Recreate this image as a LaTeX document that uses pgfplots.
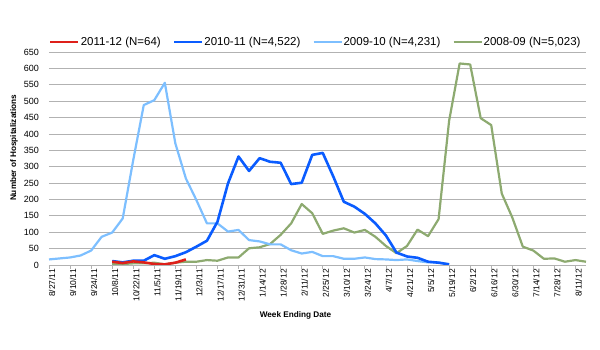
\documentclass[border=0pt]{standalone}
\usepackage{pgfplots}
\pgfplotsset{compat=1.18}
\usepackage{fontspec}
\setmainfont{Liberation Sans}

\definecolor{sA}{RGB}{222,32,26}    % 2011-12
\definecolor{sB}{RGB}{10,92,255}    % 2010-11
\definecolor{sC}{RGB}{125,191,255}  % 2009-10
\definecolor{sD}{RGB}{141,170,112}  % 2008-09
\definecolor{gridgray}{RGB}{178,178,178}

% week index (0 = 8/27/11), weekly hospitalizations
\pgfplotstableread{
w v
6 10
7 6
8 11
9 8
10 3
11 2
12 7
13 17
}\seasonA
\pgfplotstableread{
w v
6 12
7 8
8 13
9 13
10 30
11 19
12 27
13 39
14 56
15 74
16 132
17 249
18 331
19 287
20 326
21 315
22 312
23 247
24 251
25 336
26 342
27 270
28 193
29 178
30 156
31 127
32 90
33 38
34 26
35 22
36 10
37 7
38 2
}\seasonB
\pgfplotstableread{
w v
0 17
1 20
2 23
3 29
4 44
5 86
6 99
7 142
8 320
9 488
10 503
11 556
12 371
13 264
14 198
15 127
16 127
17 102
18 107
19 76
20 72
21 63
22 63
23 45
24 35
25 40
26 27
27 27
28 19
29 19
30 23
31 18
32 17
33 15
34 17
35 12
36 8
37 8
38 2
}\seasonC
\pgfplotstableread{
w v
6 3
7 3
8 5
9 5
10 7
11 2
12 7
13 10
14 10
15 15
16 13
17 23
18 23
19 51
20 54
21 64
22 92
23 127
24 186
25 158
26 95
27 105
28 112
29 99
30 107
31 86
32 58
33 36
34 58
35 108
36 88
37 140
38 440
39 615
40 612
41 448
42 427
43 218
44 145
45 56
46 44
47 19
48 20
49 10
50 15
51 10
}\seasonD

\begin{document}
\begin{tikzpicture}
\path[use as bounding box] (-49pt,-85pt) rectangle (551pt,265pt);
\begin{axis}[
  at={(0pt,0pt)}, anchor=south west,
  scale only axis, width=537pt, height=213pt,
  xmin=0, xmax=51, ymin=0, ymax=650,
  axis x line*=bottom, axis y line*=left,
  x axis line style={-, draw=gridgray, line width=0.9pt},
  y axis line style={draw=none},
  ytick={0,50,...,650},
  ymajorgrids, grid style={gridgray, line width=0.7pt},
  ytick style={draw=none},
  xtick={0,2,...,50},
  xticklabels={8/27/11,9/10/11,9/24/11,10/8/11,10/22/11,11/5/11,11/19/11,12/3/11,12/17/11,12/31/11,1/14/12,1/28/12,2/11/12,2/25/12,3/10/12,3/24/12,4/7/12,4/21/12,5/5/12,5/19/12,6/2/12,6/16/12,6/30/12,7/14/12,7/28/12,8/11/12},
  xtick style={draw=gridgray, line width=0.8pt},
  tick align=outside, major tick length=4pt,
  /pgf/number format/assume math mode=true,
  x tick label style={rotate=90, anchor=east, inner sep=0pt, yshift=-3pt, font=\fontsize{8.5}{9}\selectfont},
  y tick label style={anchor=east, inner sep=0pt, xshift=-6pt, font=\fontsize{9}{10}\selectfont},
  xlabel={Week Ending Date},
  ylabel={Number of Hospitalizations},
  every axis x label/.style={at={(axis description cs:0.459,-0.235)}, anchor=center, font=\bfseries\fontsize{8.2}{9}\selectfont},
  every axis y label/.style={at={(axis description cs:-0.065,0.55)}, rotate=90, anchor=center, font=\bfseries\fontsize{8.2}{9}\selectfont},
  legend columns=4, reverse legend,
  legend style={at={(axis description cs:0.496,1)}, anchor=south, yshift=2pt,
    draw=none, fill=none, font=\fontsize{11.5}{13}\selectfont,
    nodes={inner xsep=1pt, inner ysep=1pt},
    /tikz/every even column/.append style={column sep=11pt}},
  legend image code/.code={\draw[#1] (0pt,0pt) -- (28pt,0pt);},
  line join=round,
]
\addplot[sD, line width=2.2pt] table[x=w, y=v] {\seasonD};
\addlegendentry{2008-09 (N=5,023)}
\addplot[sC, line width=2.2pt] table[x=w, y=v] {\seasonC};
\addlegendentry{2009-10 (N=4,231)}
\addplot[sB, line width=2.6pt] table[x=w, y=v] {\seasonB};
\addlegendentry{2010-11 (N=4,522)}
\addplot[sA, line width=2.6pt] table[x=w, y=v] {\seasonA};
\addlegendentry{2011-12 (N=64)}
\end{axis}
\end{tikzpicture}
\end{document}
